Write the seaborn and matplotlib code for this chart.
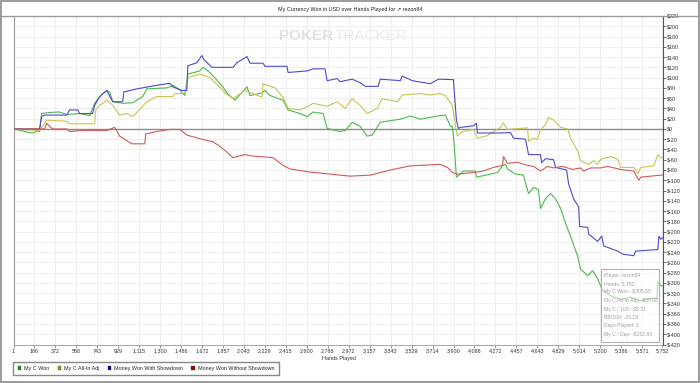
import matplotlib
matplotlib.use("Agg")
import matplotlib.pyplot as plt
import seaborn as sns
import pandas as pd
from matplotlib.patches import Rectangle, Patch
from matplotlib.lines import Line2D

sns.set_theme(style="white")
plt.rcParams['font.family'] = ['Liberation Sans', 'DejaVu Sans']

# ---------------- data ----------------
green_hands = [1, 54, 116, 170, 214, 232, 250, 321, 409, 472,
               587, 676, 720, 765, 827, 853, 880, 969, 1058, 1146,
               1182, 1359, 1386, 1413, 1475, 1519, 1546, 1652, 1679, 1741,
               1803, 1857, 1892, 1963, 2070, 2096, 2203, 2230, 2274, 2389,
               2434, 2540, 2603, 2656, 2745, 2780, 2895, 2940, 3002, 3073,
               3135, 3180, 3251, 3428, 3517, 3606, 3757, 3828, 3873, 3890,
               3908, 3926, 3961, 3988, 4094, 4103, 4289, 4334, 4361, 4378,
               4450, 4520, 4565, 4609, 4653, 4671, 4715, 4760, 4804, 4849,
               4893, 4937, 5000, 5026, 5089, 5133, 5177, 5222, 5293, 5382,
               5471, 5560, 5648, 5702, 5711, 5737, 5752]
green_vals = [0, -2, -6, -8, -4, -5, 30, 32, 33, 28,
              30, 26, 50, 63, 75, 72, 53, 50, 51, 63,
              78, 80, 82, 85, 76, 65, 107, 113, 120, 110,
              95, 82, 70, 56, 82, 65, 70, 75, 65, 56,
              37, 30, 24, 33, 30, 1, -5, -3, 13, 5,
              -14, -12, 13, 19, 25, 19, 25, 27, 5, 5,
              -37, -94, -88, -82, -82, -94, -85, -72, -69, -78,
              -88, -90, -126, -114, -118, -155, -136, -126, -136, -155,
              -184, -209, -248, -273, -286, -276, -292, -315, -325, -332,
              -328, -335, -330, -330, -298, -305, -306]

blue_hands = [1, 232, 250, 276, 472, 498, 569, 587, 702, 720,
              765, 827, 880, 969, 978, 1093, 1271, 1386, 1413, 1493,
              1537, 1546, 1626, 1670, 1688, 1759, 1946, 1981, 2070, 2096,
              2212, 2230, 2425, 2434, 2603, 2656, 2762, 2780, 2869, 2895,
              3002, 3073, 3117, 3233, 3251, 3428, 3446, 3535, 3694, 3766,
              3899, 3926, 3943, 3961, 4076, 4103, 4112, 4316, 4405, 4432,
              4538, 4565, 4671, 4680, 4715, 4787, 4804, 4902, 4920, 4964,
              5009, 5018, 5089, 5098, 5177, 5213, 5231, 5355, 5400, 5497,
              5515, 5711, 5720, 5737, 5752]
blue_vals = [0, 0, 24, 27, 27, 37, 37, 30, 30, 46,
             63, 75, 53, 53, 72, 78, 85, 89, 82, 75,
             75, 123, 129, 143, 135, 120, 120, 129, 141, 128,
             128, 122, 122, 110, 113, 117, 117, 94, 98, 92,
             97, 90, 83, 83, 97, 94, 103, 94, 88, 97,
             96, 17, 1, 3, 6, 11, -8, -8, -7, -18,
             -20, -50, -50, -66, -58, -60, -75, -80, -107, -136,
             -152, -190, -192, -205, -219, -209, -228, -238, -244, -247,
             -238, -235, -209, -215, -212]

yellow_hands = [1, 232, 276, 294, 472, 498, 720, 729, 765, 827,
                880, 942, 1004, 1058, 1146, 1182, 1271, 1413, 1430, 1519,
                1546, 1652, 1741, 1830, 1875, 1946, 2052, 2079, 2203, 2212,
                2318, 2389, 2434, 2540, 2611, 2656, 2780, 2869, 2940, 3002,
                3073, 3135, 3224, 3268, 3402, 3446, 3606, 3694, 3783, 3828,
                3890, 3917, 3934, 3961, 3988, 4076, 4112, 4200, 4316, 4343,
                4378, 4556, 4565, 4609, 4644, 4671, 4715, 4742, 4787, 4849,
                4911, 4937, 5000, 5026, 5098, 5142, 5177, 5204, 5293, 5355,
                5382, 5497, 5533, 5560, 5675, 5711, 5737, 5752]
yellow_vals = [0, -3, 11, 17, 15, 10, 10, 37, 46, 56,
               46, 27, 30, 24, 44, 53, 63, 63, 69, 69,
               100, 107, 100, 81, 70, 59, 75, 72, 62, 88,
               80, 62, 40, 37, 44, 50, 44, 53, 40, 59,
               46, 30, 40, 59, 53, 66, 69, 66, 69, 65,
               46, 8, -14, -8, -5, -1, -18, -13, 3, 12,
               -1, 2, -24, -18, -21, -1, 8, 22, 17, 3,
               0, -18, -43, -62, -69, -62, -69, -59, -54, -59,
               -75, -75, -87, -75, -72, -50, -56, -55]

red_hands = [1, 276, 294, 321, 347, 472, 498, 614, 827, 898,
             942, 1049, 1164, 1173, 1271, 1386, 1475, 1537, 1652, 1768,
             1830, 1892, 1946, 2052, 2123, 2301, 2389, 2452, 2629, 2807,
             2984, 3162, 3339, 3428, 3517, 3694, 3783, 3846, 3890, 3934,
             4076, 4165, 4254, 4334, 4343, 4378, 4467, 4556, 4609, 4671,
             4733, 4787, 4866, 4955, 5026, 5053, 5115, 5204, 5266, 5382,
             5497, 5542, 5560, 5648, 5737, 5752]
red_vals = [0, 0, 11, 5, 0, 0, -5, -3, -3, 3,
            -14, -29, -29, -10, -5, -1, -1, -12, -19, -25,
            -34, -45, -56, -50, -53, -56, -71, -78, -84, -88,
            -92, -90, -80, -76, -72, -70, -69, -75, -85, -88,
            -85, -82, -75, -71, -54, -67, -65, -71, -73, -82,
            -73, -76, -73, -79, -76, -82, -76, -76, -73, -79,
            -82, -100, -94, -92, -90, -90]

series_names = ["My C Won", "My C All-In Adj", "Money Won With Showdown",
                "Money Won Without Showdown"]
line_colors = ["#4cb84c", "#c8c452", "#4a4ad0", "#d05a5a"]
legend_colors = ["#1f8f1f", "#9a9a00", "#00009a", "#9a0000"]

x_ticks = [1, 186, 372, 558, 743, 929, 1115, 1300, 1486, 1672, 1857, 2043,
           2229, 2415, 2600, 2786, 2972, 3157, 3343, 3529, 3714, 3900, 4086,
           4272, 4457, 4643, 4829, 5014, 5200, 5386, 5571, 5752]
y_ticks = list(range(-420, 221, 20))

info_lines = ["Player: rezon84", "Hands: 5,752", "My C Won: -$305.65",
              "My C All-In Adj: -$59.68", "My C / 100: -$5.31",
              "BB/100: -20.19", "Days Played: 2", "My C / Day: -$152.83"]

title = "My Currency Won in USD over Hands Played for \u2197 rezon84"

# ---------------- build frame ----------------
frames = []
for name, h, v in zip(series_names,
                      [green_hands, yellow_hands, blue_hands, red_hands],
                      [green_vals, yellow_vals, blue_vals, red_vals]):
    frames.append(pd.DataFrame({"Hands": h, "Won": v, "Series": name}))
df = pd.concat(frames, ignore_index=True)

W, H = 700, 383
fig = plt.figure(figsize=(W / 100, H / 100), dpi=100)
fig.patch.set_facecolor("white")

def fx(px):
    return px / W

def fy(py):
    return 1 - py / H

FS = 3.9
left, right, top, bottom = 13.5, 662.5, 16, 344.5
ax = fig.add_axes([fx(left), fy(bottom), (right - left) / W, (bottom - top) / H])
ax.set_facecolor("white")

ax.set_xlim(1, 5752)
ax.set_ylim(-420, 220)
ax.set_xticks(x_ticks)
ax.set_xticklabels([f"{t:,}" for t in x_ticks])
ax.set_yticks(y_ticks)
ax.set_yticklabels([f"${t}" for t in y_ticks])
ax.grid(True, color="#ededed", linewidth=0.6)
ax.set_axisbelow(True)
ax.axhline(0, color="#8c8c8c", linewidth=1.0, zorder=1)

sns.lineplot(data=df, x="Hands", y="Won", hue="Series", hue_order=series_names,
             palette=line_colors, estimator=None, sort=False, linewidth=0.8,
             legend=False, ax=ax, zorder=3)

ax.yaxis.tick_right()
ax.tick_params(axis="y", which="both", right=True, left=False, length=2.5,
               width=0.6, color="#555555", labelsize=FS, labelcolor="#333333", pad=1)
ax.tick_params(axis="x", bottom=True, length=2, width=0.6, color="#888888",
               labelsize=FS, labelcolor="#333333", pad=1)
ax.set_xlabel("")
ax.set_ylabel("")
ax.spines["top"].set_visible(False)
ax.spines["left"].set_color("#9a9a9a")
ax.spines["left"].set_linewidth(0.8)
ax.spines["bottom"].set_color("#9a9a9a")
ax.spines["bottom"].set_linewidth(0.6)
ax.spines["right"].set_color("#555555")
ax.spines["right"].set_linewidth(0.8)

# watermark
fig.text(fx(333), fy(36.5), "POKER", ha="right", va="center",
         fontsize=11, fontweight="bold", color="#e2e2e2", zorder=0.5)
fig.text(fx(335), fy(36.5), "TRACKER", ha="left", va="center",
         fontsize=11, color="#ebebeb", zorder=0.5)

# title and frame lines
fig.text(0.5, fy(9), title, ha="center", va="center", fontsize=3.9,
         color="#222222", family=['Liberation Sans', 'DejaVu Sans'])
fig.add_artist(Line2D([0, 1], [fy(16), fy(16)], transform=fig.transFigure,
                      color="#9a9a9a", linewidth=1.0))
fig.add_artist(Rectangle((0.001, 0.002), 0.997, 0.996, transform=fig.transFigure,
                         fill=False, edgecolor="#8a8a8a", linewidth=1.2))

# x label
fig.text(fx(338.5), fy(358.3), "Hands Played", ha="center", va="center",
         fontsize=FS, color="#333333")

# legend
handles = [Patch(facecolor=c, edgecolor="#555555", linewidth=0.3) for c in legend_colors]
fig.legend(handles, series_names, loc="upper left",
           bbox_to_anchor=(fx(13.3), fy(361.7)), ncol=4, fontsize=FS,
           frameon=True, fancybox=False, edgecolor="#888888", framealpha=1,
           handlelength=0.7, handleheight=0.7, handletextpad=0.5,
           columnspacing=1.5, borderpad=0.8, borderaxespad=0)

# info box
box_l, box_t, box_r, box_b = 601, 269, 659, 342
fig.add_artist(Rectangle((fx(box_l), fy(box_b)), (box_r - box_l) / W, (box_b - box_t) / H,
                         transform=fig.transFigure, facecolor="white", alpha=0.55,
                         edgecolor="none", zorder=5))
fig.add_artist(Rectangle((fx(box_l), fy(box_b)), (box_r - box_l) / W, (box_b - box_t) / H,
                         transform=fig.transFigure, fill=False,
                         edgecolor="#b0b0b0", linewidth=0.8, zorder=6))
for i, line in enumerate(info_lines):
    fig.text(fx(604), fy(275 + i * 8.5), line, ha="left", va="center",
             fontsize=3.7, color="#a0a0a0", zorder=7)

fig.savefig("out.png", dpi=100, facecolor="white")
